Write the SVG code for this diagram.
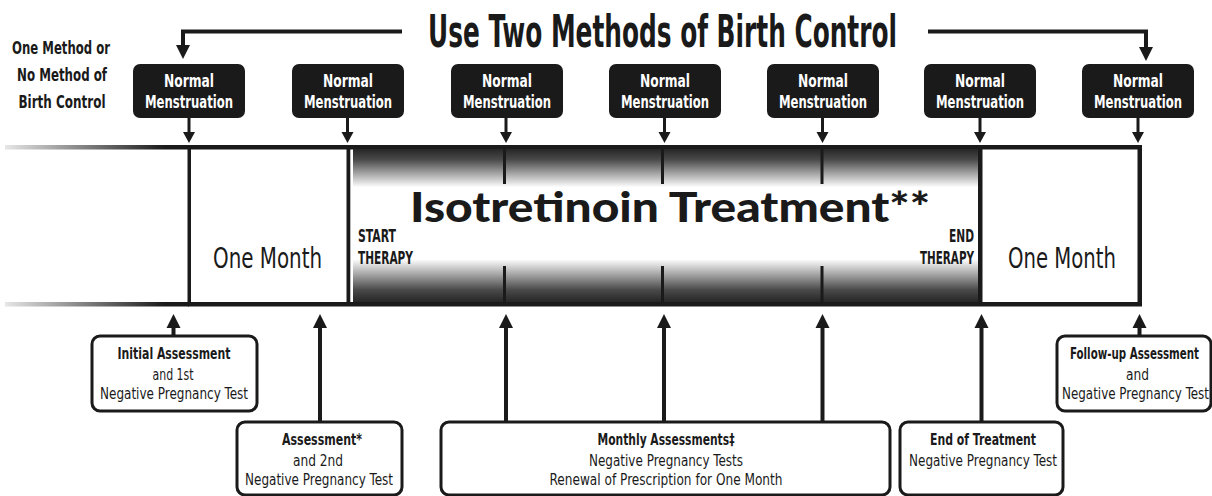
<svg xmlns="http://www.w3.org/2000/svg" width="1212" height="496" viewBox="0 0 1212 496">
<style>
.c{font-family:"DejaVu Sans Condensed","DejaVu Sans",sans-serif;font-stretch:condensed;}
.b{font-weight:bold;}
.w{fill:#fff;}
.k{fill:#1a1a1a;}
.mid{text-anchor:middle;}
.end{text-anchor:end;}
.nb{fill:#1a1a1a;}
.bx{fill:#fff;stroke:#1a1a1a;stroke-width:3;}
.ln{stroke:#1a1a1a;fill:none;}
</style>
<defs>
<marker id="ah" markerUnits="userSpaceOnUse" markerWidth="15" markerHeight="15" refX="1" refY="7" orient="auto" viewBox="0 0 15 14">
<path d="M0,0 L14,7 L0,14 z" fill="#1a1a1a"/>
</marker>
<marker id="ahs" markerUnits="userSpaceOnUse" markerWidth="12" markerHeight="13" refX="1" refY="6" orient="auto" viewBox="0 0 12 12">
<path d="M0,0 L11,6 L0,12 z" fill="#1a1a1a"/>
</marker>
<linearGradient id="fade" gradientUnits="userSpaceOnUse" x1="5" y1="0" x2="165" y2="0">
<stop offset="0" stop-color="#e6e6e6"/>
<stop offset="1" stop-color="#1a1a1a"/>
</linearGradient>
<linearGradient id="tg" x1="0" y1="0" x2="0" y2="1">
<stop offset="0" stop-color="#262626"/>
<stop offset="0.07" stop-color="#4a4a4a"/>
<stop offset="0.25" stop-color="#ffffff"/>
<stop offset="0.72" stop-color="#ffffff"/>
<stop offset="0.92" stop-color="#4a4a4a"/>
<stop offset="1" stop-color="#262626"/>
</linearGradient>
</defs>
<rect width="1212" height="496" fill="#fff"/>

<g id="title">
<text x="428" y="47" class="c b k" font-size="44" textLength="469" lengthAdjust="spacingAndGlyphs">Use Two Methods of Birth Control</text>
</g>

<g id="left-label" class="c b k" font-size="18">
<text x="61" y="54" class="mid" textLength="98" lengthAdjust="spacingAndGlyphs">One Method or</text>
<text x="62" y="81" class="mid" textLength="90" lengthAdjust="spacingAndGlyphs">No Method of</text>
<text x="62" y="108" class="mid" textLength="87" lengthAdjust="spacingAndGlyphs">Birth Control</text>
</g>

<g id="timeline">
<rect x="5" y="145" width="184" height="4.5" fill="url(#fade)"/>
<rect x="5" y="302" width="184" height="4.5" fill="url(#fade)"/>
<rect x="188" y="145" width="954" height="4.5" fill="#1a1a1a"/>
<rect x="188" y="302" width="954" height="4.5" fill="#1a1a1a"/>
<rect x="353" y="149" width="625" height="153" fill="url(#tg)"/>
<rect x="187.5" y="145" width="3.5" height="161" fill="#1a1a1a"/>
<rect x="346.5" y="145" width="3.8" height="161" fill="#1a1a1a"/>
<rect x="978" y="145" width="4.5" height="161" fill="#1a1a1a"/>
<rect x="1137.5" y="145" width="4.5" height="161" fill="#1a1a1a"/>
<rect x="503" y="149" width="3" height="35" fill="#1a1a1a"/>
<rect x="503" y="266" width="3" height="36" fill="#1a1a1a"/>
<rect x="661" y="149" width="3" height="35" fill="#1a1a1a"/>
<rect x="661" y="266" width="3" height="36" fill="#1a1a1a"/>
<rect x="820.5" y="149" width="3" height="35" fill="#1a1a1a"/>
<rect x="820.5" y="266" width="3" height="36" fill="#1a1a1a"/>
</g>

<g id="month1">
<text x="267.5" y="268" class="c k mid" font-size="29" textLength="109" lengthAdjust="spacingAndGlyphs">One Month</text>
</g>
<g id="month2">
<text x="1062" y="268" class="c k mid" font-size="29" textLength="108" lengthAdjust="spacingAndGlyphs">One Month</text>
</g>
<g id="treatment">
<text x="670" y="222" font-family="Lato,'Open Sans',sans-serif" font-weight="900" font-size="41" class="k mid" textLength="520" lengthAdjust="spacingAndGlyphs">Isotretinoin Treatment**</text>
</g>
<g id="start" class="c b k" font-size="17">
<text x="358" y="242" textLength="38" lengthAdjust="spacingAndGlyphs">START</text>
<text x="358" y="264" textLength="55" lengthAdjust="spacingAndGlyphs">THERAPY</text>
</g>
<g id="end" class="c b k" font-size="17" text-anchor="end">
<text x="974" y="242" textLength="25" lengthAdjust="spacingAndGlyphs">END</text>
<text x="974" y="264" textLength="54" lengthAdjust="spacingAndGlyphs">THERAPY</text>
</g>

<g id="nm1"><rect x="133" y="64" width="112" height="54" rx="7" class="nb"/><text x="189" y="87" class="c b w mid" font-size="18" textLength="50" lengthAdjust="spacingAndGlyphs">Normal</text><text x="189" y="108" class="c b w mid" font-size="18" textLength="88" lengthAdjust="spacingAndGlyphs">Menstruation</text></g>
<g id="nm2"><rect x="292" y="64" width="112" height="54" rx="7" class="nb"/><text x="348" y="87" class="c b w mid" font-size="18" textLength="50" lengthAdjust="spacingAndGlyphs">Normal</text><text x="348" y="108" class="c b w mid" font-size="18" textLength="88" lengthAdjust="spacingAndGlyphs">Menstruation</text></g>
<g id="nm3"><rect x="451" y="64" width="112" height="54" rx="7" class="nb"/><text x="507" y="87" class="c b w mid" font-size="18" textLength="50" lengthAdjust="spacingAndGlyphs">Normal</text><text x="507" y="108" class="c b w mid" font-size="18" textLength="88" lengthAdjust="spacingAndGlyphs">Menstruation</text></g>
<g id="nm4"><rect x="609" y="64" width="112" height="54" rx="7" class="nb"/><text x="665" y="87" class="c b w mid" font-size="18" textLength="50" lengthAdjust="spacingAndGlyphs">Normal</text><text x="665" y="108" class="c b w mid" font-size="18" textLength="88" lengthAdjust="spacingAndGlyphs">Menstruation</text></g>
<g id="nm5"><rect x="767" y="64" width="112" height="54" rx="7" class="nb"/><text x="823" y="87" class="c b w mid" font-size="18" textLength="50" lengthAdjust="spacingAndGlyphs">Normal</text><text x="823" y="108" class="c b w mid" font-size="18" textLength="88" lengthAdjust="spacingAndGlyphs">Menstruation</text></g>
<g id="nm6"><rect x="924" y="64" width="112" height="54" rx="7" class="nb"/><text x="980" y="87" class="c b w mid" font-size="18" textLength="50" lengthAdjust="spacingAndGlyphs">Normal</text><text x="980" y="108" class="c b w mid" font-size="18" textLength="88" lengthAdjust="spacingAndGlyphs">Menstruation</text></g>
<g id="nm7"><rect x="1082" y="64" width="112" height="54" rx="7" class="nb"/><text transform="translate(1138,87) scale(0.72,1)" x="0" y="0" class="c b w mid" font-size="18" textLength="69.4" lengthAdjust="spacingAndGlyphs">Normal</text><text transform="translate(1138,108) scale(0.72,1)" x="0" y="0" class="c b w mid" font-size="18" textLength="122.2" lengthAdjust="spacingAndGlyphs">Menstruation</text></g>

<g id="initial">
<rect x="92" y="336" width="165" height="75" rx="8" class="bx"/>
<text x="174" y="359" class="c b k mid" font-size="16" textLength="113" lengthAdjust="spacingAndGlyphs">Initial Assessment</text>
<text x="173" y="380" class="c k mid" font-size="16" textLength="41" lengthAdjust="spacingAndGlyphs">and 1st</text>
<text x="174" y="399" class="c k mid" font-size="16" textLength="148" lengthAdjust="spacingAndGlyphs">Negative Pregnancy Test</text>
</g>
<g id="second">
<rect x="237" y="422" width="165" height="73" rx="8" class="bx"/>
<text x="322" y="445" class="c b k mid" font-size="16" textLength="80" lengthAdjust="spacingAndGlyphs">Assessment*</text>
<text x="318" y="466" class="c k mid" font-size="16" textLength="50" lengthAdjust="spacingAndGlyphs">and 2nd</text>
<text x="319" y="485" class="c k mid" font-size="16" textLength="148" lengthAdjust="spacingAndGlyphs">Negative Pregnancy Test</text>
</g>
<g id="monthly">
<rect x="441" y="422" width="449" height="73" rx="8" class="bx"/>
<text x="666" y="445" class="c b k mid" font-size="16" textLength="137" lengthAdjust="spacingAndGlyphs">Monthly Assessments‡</text>
<text x="666" y="466" class="c k mid" font-size="16" textLength="154" lengthAdjust="spacingAndGlyphs">Negative Pregnancy Tests</text>
<text x="666" y="485" class="c k mid" font-size="16" textLength="233" lengthAdjust="spacingAndGlyphs">Renewal of Prescription for One Month</text>
</g>
<g id="endtx">
<rect x="900" y="422" width="163" height="73" rx="8" class="bx"/>
<text x="983" y="445" class="c b k mid" font-size="16" textLength="106" lengthAdjust="spacingAndGlyphs">End of Treatment</text>
<text x="983" y="466" class="c k mid" font-size="16" textLength="148" lengthAdjust="spacingAndGlyphs">Negative Pregnancy Test</text>
</g>
<g id="followup">
<rect x="1057" y="336" width="154" height="75" rx="8" class="bx"/>
<text transform="translate(1134.5,359) scale(0.717,1)" x="0" y="0" class="c b k mid" font-size="16" textLength="180" lengthAdjust="spacingAndGlyphs">Follow-up Assessment</text>
<text x="1137.5" y="380" class="c k mid" font-size="16" textLength="23" lengthAdjust="spacingAndGlyphs">and</text>
<text transform="translate(1135.5,399) scale(0.835,1)" x="0" y="0" class="c k mid" font-size="16" textLength="176" lengthAdjust="spacingAndGlyphs">Negative Pregnancy Test</text>
</g>

<g id="connectors" class="ln">
<path d="M402,31.5 H183 V46" stroke-width="4" marker-end="url(#ah)"/>
<path d="M928,31.5 H1146 V48" stroke-width="4" marker-end="url(#ah)"/>
<path d="M189,118 V133" stroke-width="3" marker-end="url(#ahs)"/>
<path d="M347.5,118 V133" stroke-width="3" marker-end="url(#ahs)"/>
<path d="M506,118 V133" stroke-width="3" marker-end="url(#ahs)"/>
<path d="M664.5,118 V133" stroke-width="3" marker-end="url(#ahs)"/>
<path d="M822.5,118 V133" stroke-width="3" marker-end="url(#ahs)"/>
<path d="M980,118 V133" stroke-width="3" marker-end="url(#ahs)"/>
<path d="M1138,118 V133" stroke-width="3" marker-end="url(#ahs)"/>
<path d="M173.5,336 V327" stroke-width="4" marker-end="url(#ah)"/>
<path d="M320,422 V327" stroke-width="4" marker-end="url(#ah)"/>
<path d="M506,422 V327" stroke-width="4" marker-end="url(#ah)"/>
<path d="M664,422 V327" stroke-width="4" marker-end="url(#ah)"/>
<path d="M822.5,422 V327" stroke-width="4" marker-end="url(#ah)"/>
<path d="M981.5,422 V327" stroke-width="4" marker-end="url(#ah)"/>
<path d="M1139.5,336 V327" stroke-width="4" marker-end="url(#ah)"/>
</g>
</svg>
